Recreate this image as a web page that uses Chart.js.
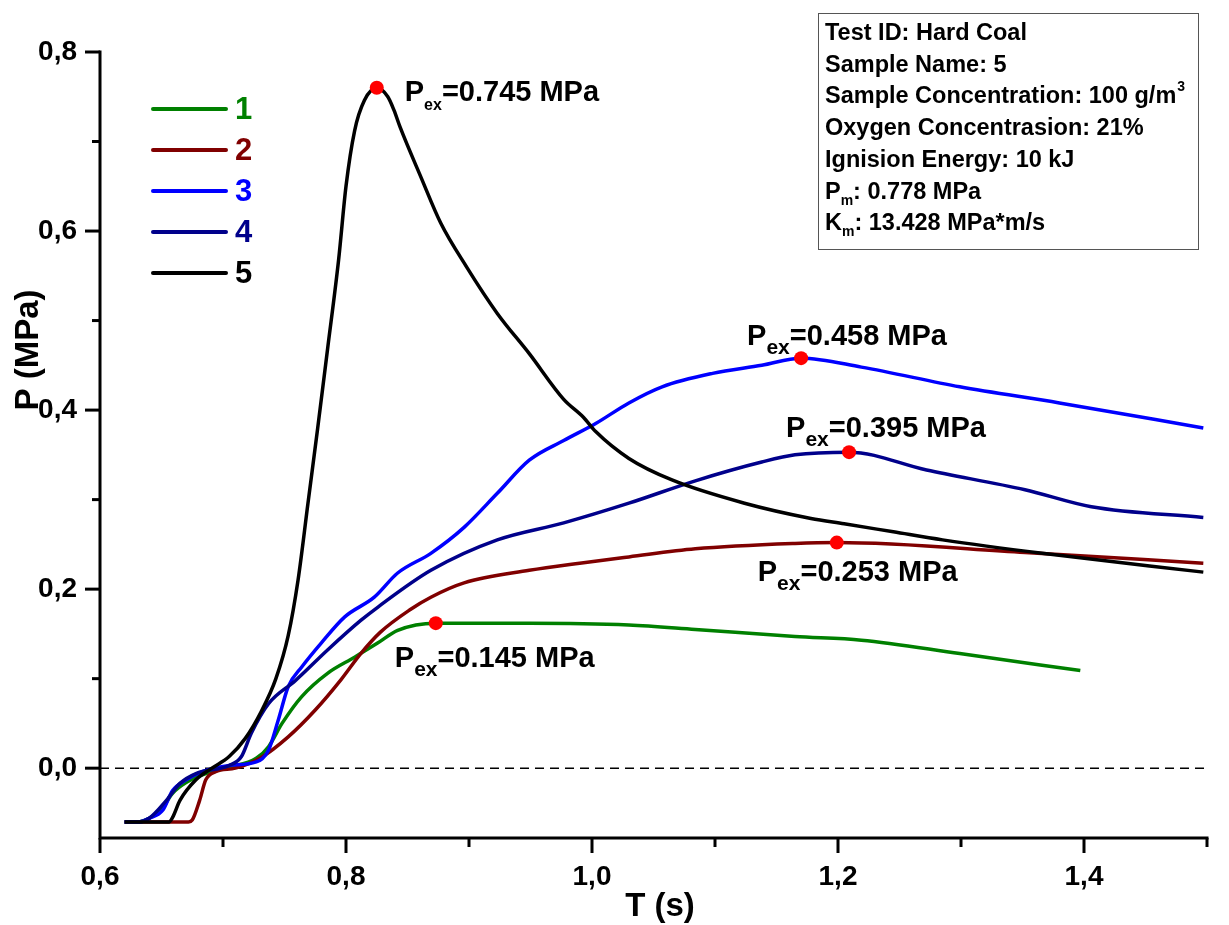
<!DOCTYPE html>
<html>
<head>
<meta charset="utf-8">
<script src="https://cdn.jsdelivr.net/npm/chart.js@4.4.1/dist/chart.umd.min.js"></script>
<style>
  html, body { margin: 0; padding: 0; background: #fff; }
  #wrap { width: 1229px; height: 925px; position: relative; }
</style>
</head>
<body>
<div id="wrap"><canvas id="chart"></canvas></div>
<script>
// curve data (T in s, P in MPa)
const curve1T = [0.620, 0.630, 0.640, 0.651, 0.659, 0.670, 0.686, 0.705, 0.727, 0.737, 0.748, 0.764, 0.785, 0.807, 0.826, 0.842, 0.873, 0.949, 1.030, 1.084, 1.165, 1.219, 1.299, 1.397];
const curve1P = [-0.060, -0.060, -0.056, -0.044, -0.028, -0.016, -0.006, 0.001, 0.011, 0.024, 0.050, 0.080, 0.106, 0.124, 0.140, 0.154, 0.162, 0.162, 0.160, 0.155, 0.147, 0.143, 0.128, 0.109];

const curve2T = [0.620, 0.672, 0.675, 0.681, 0.686, 0.694, 0.710, 0.731, 0.753, 0.775, 0.796, 0.812, 0.828, 0.852, 0.869, 0.896, 0.949, 0.990, 1.030, 1.084, 1.165, 1.199, 1.352, 1.497];
const curve2P = [-0.060, -0.060, -0.058, -0.036, -0.013, -0.004, 0.000, 0.012, 0.035, 0.065, 0.099, 0.128, 0.152, 0.177, 0.191, 0.207, 0.221, 0.229, 0.236, 0.245, 0.251, 0.252, 0.241, 0.229];

const curve3T = [0.620, 0.632, 0.640, 0.651, 0.659, 0.670, 0.683, 0.705, 0.727, 0.737, 0.745, 0.753, 0.764, 0.780, 0.799, 0.823, 0.842, 0.869, 0.896, 0.923, 0.949, 0.977, 1.003, 1.030, 1.057, 1.098, 1.138, 1.170, 1.219, 1.299, 1.380, 1.497];
const curve3P = [-0.060, -0.060, -0.056, -0.047, -0.025, -0.013, -0.004, 0.003, 0.007, 0.020, 0.054, 0.091, 0.113, 0.140, 0.169, 0.191, 0.218, 0.240, 0.269, 0.307, 0.344, 0.366, 0.385, 0.408, 0.426, 0.441, 0.450, 0.458, 0.448, 0.426, 0.408, 0.380];

const curve4T = [0.620, 0.632, 0.640, 0.654, 0.665, 0.678, 0.705, 0.715, 0.723, 0.737, 0.759, 0.785, 0.812, 0.826, 0.869, 0.923, 0.977, 1.030, 1.084, 1.138, 1.165, 1.209, 1.272, 1.352, 1.406, 1.497];
const curve4P = [-0.060, -0.060, -0.056, -0.036, -0.017, -0.006, 0.003, 0.013, 0.039, 0.072, 0.098, 0.132, 0.165, 0.180, 0.221, 0.255, 0.274, 0.296, 0.321, 0.342, 0.350, 0.353, 0.333, 0.311, 0.292, 0.280];

const curve5T = [0.620, 0.656, 0.659, 0.665, 0.678, 0.691, 0.705, 0.718, 0.731, 0.743, 0.753, 0.761, 0.769, 0.777, 0.785, 0.794, 0.800, 0.807, 0.815, 0.825, 0.834, 0.839, 0.844, 0.861, 0.877, 0.898, 0.923, 0.949, 0.977, 0.993, 1.003, 1.030, 1.065, 1.124, 1.178, 1.205, 1.245, 1.285, 1.366, 1.497];
const curve5P = [-0.060, -0.060, -0.055, -0.036, -0.013, 0.000, 0.013, 0.033, 0.063, 0.100, 0.148, 0.210, 0.295, 0.380, 0.468, 0.568, 0.650, 0.712, 0.746, 0.760, 0.750, 0.735, 0.716, 0.660, 0.609, 0.560, 0.508, 0.463, 0.412, 0.392, 0.376, 0.346, 0.322, 0.296, 0.279, 0.273, 0.264, 0.255, 0.240, 0.219];

const seriesNames = ["1", "2", "3", "4", "5"];
const seriesColors = ["#008000", "#800000", "#0000ff", "#00008b", "#000000"];

// peak markers (one per curve) and their labels
const peakT = [0.873, 1.199, 1.170, 1.209, 0.825];
const peakP = [0.162, 0.252, 0.458, 0.353, 0.760];
const peakText = ["=0.145 MPa", "=0.253 MPa", "=0.458 MPa", "=0.395 MPa", "=0.745 MPa"];

const xTicks = [0.6, 0.7, 0.8, 0.9, 1.0, 1.1, 1.2, 1.3, 1.4, 1.5];
const yTicks = [0.0, 0.1, 0.2, 0.3, 0.4, 0.5, 0.6, 0.7, 0.8];

const infoLines = [
  [["Test ID: Hard Coal", ""]],
  [["Sample Name: 5", ""]],
  [["Sample Concentration: 100 g/m", ""], ["3", "sup"]],
  [["Oxygen Concentrasion: 21%", ""]],
  [["Ignision Energy: 10 kJ", ""]],
  [["P", ""], ["m", "sub"], [": 0.778 MPa", ""]],
  [["K", ""], ["m", "sub"], [": 13.428 MPa*m/s", ""]]
];

const FONT = "'Liberation Sans', Arial, Helvetica, sans-serif";
const curves = [[curve1T, curve1P], [curve2T, curve2P], [curve3T, curve3P], [curve4T, curve4P], [curve5T, curve5P]];

const datasets = curves.map((c, i) => ({
  label: seriesNames[i],
  data: c[0].map((t, j) => ({x: t, y: c[1][j]})),
  borderColor: seriesColors[i],
  borderWidth: 3.5,
  pointRadius: 0,
  showLine: true,
  fill: false,
  cubicInterpolationMode: 'monotone',
  order: 5 - i
}));
datasets.push({
  label: 'peaks',
  data: peakT.map((t, j) => ({x: t, y: peakP[j]})),
  showLine: false,
  pointRadius: 7,
  pointBackgroundColor: '#ff0000',
  pointBorderWidth: 0,
  pointBorderColor: '#ff0000',
  order: 0
});

function isMajor(v) {
  return Math.round(v * 10) % 2 === 0;
}
function fmt(v) {
  return v.toFixed(1).replace('.', ',');
}

// offsets of the "Pex=" labels relative to their marker, and subscript sizes
const labelDx = [-41, -79, -54, -63, 28];
const labelDy = [44, 38, -13, -15, 13];
const subSize = [21, 21, 21, 21, 16];

const decor = {
  id: 'decor',
  beforeDatasetsDraw(chart) {
    const ctx = chart.ctx, ca = chart.chartArea, ys = chart.scales.y;
    const y0 = ys.getPixelForValue(0);
    ctx.save();
    ctx.strokeStyle = '#000';
    ctx.lineWidth = 1.5;
    ctx.setLineDash([9, 6]);
    ctx.beginPath();
    ctx.moveTo(ca.left, y0);
    ctx.lineTo(ca.right, y0);
    ctx.stroke();
    ctx.restore();
  },
  afterDraw(chart) {
    const ctx = chart.ctx, ca = chart.chartArea;
    const xs = chart.scales.x, ys = chart.scales.y;
    ctx.save();
    // axes
    ctx.strokeStyle = '#000';
    ctx.lineWidth = 3;
    ctx.lineCap = 'square';
    ctx.beginPath();
    ctx.moveTo(ca.left, ys.getPixelForValue(0.8));
    ctx.lineTo(ca.left, ca.bottom);
    ctx.lineTo(ca.right, ca.bottom);
    ctx.stroke();
    ctx.lineCap = 'butt';
    yTicks.forEach(v => {
      const py = ys.getPixelForValue(v);
      ctx.beginPath();
      ctx.moveTo(ca.left, py);
      ctx.lineTo(ca.left - (isMajor(v) ? 15 : 8), py);
      ctx.stroke();
    });
    xTicks.forEach(v => {
      const px = xs.getPixelForValue(v);
      ctx.beginPath();
      ctx.moveTo(px, ca.bottom);
      ctx.lineTo(px, ca.bottom + (isMajor(v) ? 15 : 9));
      ctx.stroke();
    });

    // axis titles
    ctx.fillStyle = '#000';
    ctx.font = 'bold 33px ' + FONT;
    ctx.textAlign = 'center';
    ctx.textBaseline = 'middle';
    ctx.fillText('T (s)', 660, 907);
    ctx.save();
    ctx.translate(29, 350);
    ctx.rotate(-Math.PI / 2);
    ctx.fillText('P (MPa)', 0, 0);
    ctx.restore();

    // legend
    ctx.textAlign = 'left';
    ctx.lineCap = 'round';
    seriesNames.forEach((name, i) => {
      const ly = 109 + i * 41;
      ctx.strokeStyle = seriesColors[i];
      ctx.lineWidth = 4;
      ctx.beginPath();
      ctx.moveTo(153, ly);
      ctx.lineTo(226, ly);
      ctx.stroke();
      ctx.fillStyle = i === 4 ? '#000' : seriesColors[i];
      ctx.font = 'bold 31px ' + FONT;
      ctx.fillText(name, 235, ly + 1);
    });

    // peak labels
    ctx.textBaseline = 'alphabetic';
    ctx.fillStyle = '#000';
    peakT.forEach((t, i) => {
      let x = xs.getPixelForValue(t) + labelDx[i];
      const y = ys.getPixelForValue(peakP[i]) + labelDy[i];
      ctx.font = 'bold 29px ' + FONT;
      ctx.fillText('P', x, y);
      x += ctx.measureText('P').width;
      ctx.font = 'bold ' + subSize[i] + 'px ' + FONT;
      ctx.fillText('ex', x, y + 9);
      x += ctx.measureText('ex').width;
      ctx.font = 'bold 29px ' + FONT;
      ctx.fillText(peakText[i], x, y);
    });

    // info box
    ctx.strokeStyle = '#555';
    ctx.lineWidth = 1;
    ctx.strokeRect(818.5, 13.5, 380, 236);
    infoLines.forEach((line, i) => {
      let x = 825;
      const y = 40 + i * 31.7;
      line.forEach(seg => {
        const [txt, mode] = seg;
        if (mode === 'sub') {
          ctx.font = 'bold 14px ' + FONT;
          ctx.fillText(txt, x, y + 6);
        } else if (mode === 'sup') {
          ctx.font = 'bold 14px ' + FONT;
          ctx.fillText(txt, x + 1, y - 12);
        } else {
          ctx.font = 'bold 23.5px ' + FONT;
          ctx.fillText(txt, x, y);
        }
        x += ctx.measureText(txt).width;
      });
    });
    ctx.restore();
  }
};

new Chart(document.getElementById('chart'), {
  type: 'scatter',
  data: { datasets: datasets },
  options: {
    responsive: true,
    maintainAspectRatio: false,
    animation: false,
    layout: { padding: { top: 52, right: 15, left: 0, bottom: 0 } },
    plugins: { legend: { display: false }, tooltip: { enabled: false } },
    scales: {
      x: {
        type: 'linear',
        min: 0.6,
        max: 1.5,
        grid: { display: false, drawTicks: false },
        border: { display: false },
        afterBuildTicks: s => { s.ticks = xTicks.map(v => ({value: v})); },
        afterFit: s => { s.height = 87; },
        ticks: {
          autoSkip: false,
          maxRotation: 0,
          padding: 22,
          color: '#000',
          font: { family: FONT, size: 28, weight: 'bold' },
          callback: v => isMajor(v) ? fmt(v) : ''
        }
      },
      y: {
        type: 'linear',
        min: -0.078,
        max: 0.8,
        grid: { display: false, drawTicks: false },
        border: { display: false },
        afterBuildTicks: s => { s.ticks = yTicks.map(v => ({value: v})); },
        afterFit: s => { s.width = 100; },
        ticks: {
          autoSkip: false,
          padding: 23,
          color: '#000',
          font: { family: FONT, size: 28, weight: 'bold' },
          callback: v => isMajor(v) ? fmt(v) : ''
        }
      }
    }
  },
  plugins: [decor]
});
</script>
